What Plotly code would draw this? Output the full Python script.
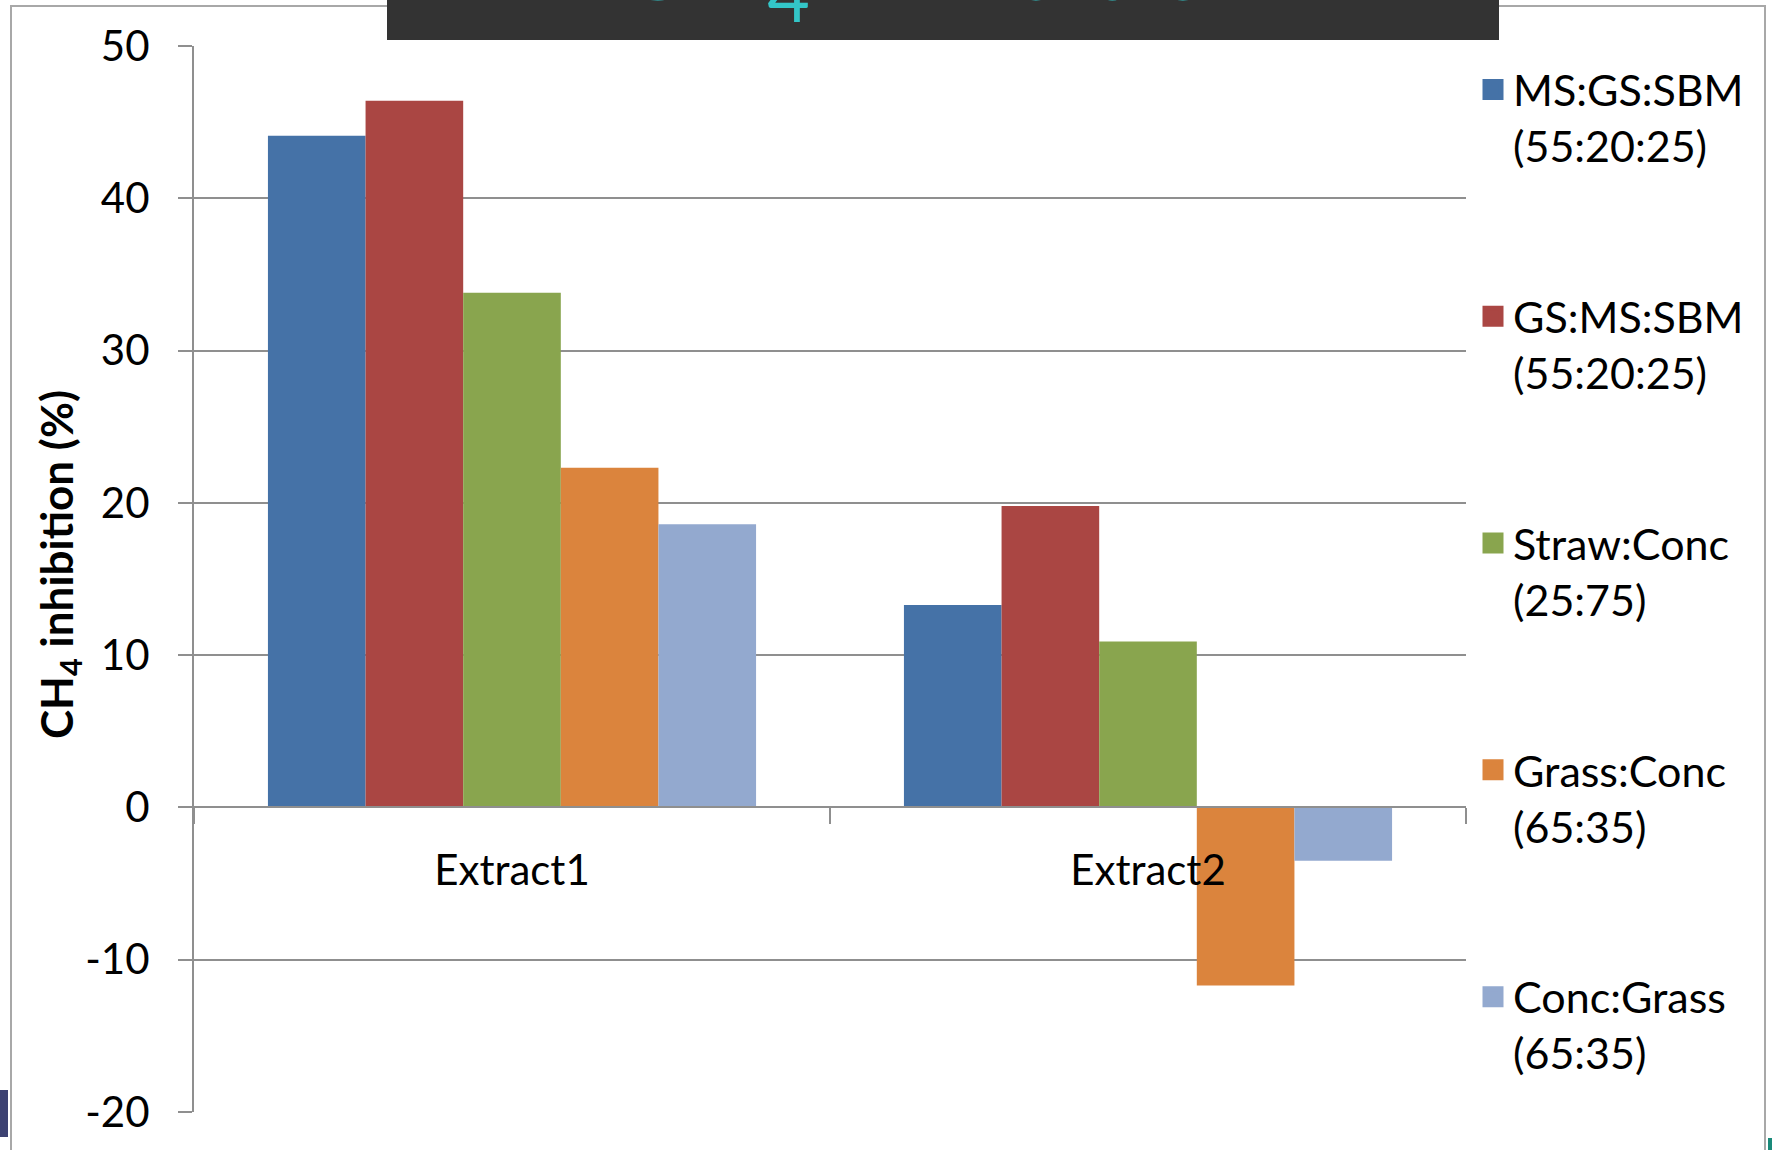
import plotly.graph_objects as go

# ---------------- data ----------------
categories = ["Extract1", "Extract2"]
series_names = [
    "MS:GS:SBM<br>(55:20:25)",
    "GS:MS:SBM<br>(55:20:25)",
    "Straw:Conc<br>(25:75)",
    "Grass:Conc<br>(65:35)",
    "Conc:Grass<br>(65:35)",
]
ms_gs_sbm = [44.1, 13.3]
gs_ms_sbm = [46.4, 19.8]
straw_conc = [33.8, 10.9]
grass_conc = [22.3, -11.7]
conc_grass = [18.6, -3.5]
series_values = [ms_gs_sbm, gs_ms_sbm, straw_conc, grass_conc, conc_grass]
colors = ["#4572A7", "#AA4643", "#89A54E", "#DB843D", "#93A9CF"]
y_ticks = [-20, -10, 0, 10, 20, 30, 40, 50]
y_tick_text = [str(v) for v in y_ticks]
y_min, y_max = -20, 50
y_title = "<b>CH<sub>4</sub> inhibition (%)</b>"
chart_title = "CH<sub>4</sub> inhibition"

# ---------------- layout constants ----------------
W, H = 1772, 1150
ML, MR, MT, MB = 194, 306, 46, 38
PW, PH = W - ML - MR, H - MT - MB
FONT = "Lato"
GRID = "#8f8f8f"


def xp(px):
    return (px - ML) / PW


def yp(py):
    return 1 - (py - MT) / PH


fig = go.Figure()
for name, vals, col in zip(series_names, series_values, colors):
    fig.add_trace(go.Bar(
        x=categories, y=vals, name=name, legendgroup=name, showlegend=False,
        marker=dict(color=col, line=dict(width=0)),
    ))
# legend entries (square swatches)
for name, col in zip(series_names, colors):
    fig.add_trace(go.Scatter(
        x=[None], y=[None], mode="markers", name=name, legendgroup=name,
        marker=dict(symbol="square", size=16, color=col, line=dict(color=col, width=5)),
        hoverinfo="skip",
    ))

shapes = [
    # title banner
    dict(type="rect", xref="paper", yref="paper", x0=xp(387), x1=xp(1499),
         y0=yp(0), y1=yp(40), fillcolor="#333333", line=dict(width=0), layer="above"),
    # slide frame
    dict(type="path", xref="paper", yref="paper",
         path=f"M {xp(11)} {yp(1150)} L {xp(11)} {yp(6)} L {xp(1765)} {yp(6)} L {xp(1765)} {yp(1150)}",
         line=dict(color="#a8a8a8", width=2), layer="below"),
    # slide artefacts
    dict(type="rect", xref="paper", yref="paper", x0=xp(0), x1=xp(8),
         y0=yp(1090), y1=yp(1137), fillcolor="#3D4272", line=dict(width=0)),
    dict(type="rect", xref="paper", yref="paper", x0=xp(1768), x1=xp(1772),
         y0=yp(1138), y1=yp(1150), fillcolor="#1A8A7A", line=dict(width=0)),
]

annotations = [
    dict(text=chart_title, xref="paper", yref="paper",
         x=xp(944), y=yp(40), xanchor="center", yanchor="bottom", showarrow=False,
         font=dict(family=FONT, size=105, color="#33C6C8")),
    dict(text=y_title, xref="paper", yref="paper", textangle=-90,
         x=xp(59), y=yp(565), xanchor="center", yanchor="middle", showarrow=False,
         font=dict(family=FONT, size=44, color="black")),
]

fig.update_layout(
    width=W, height=H,
    margin=dict(l=ML, r=MR, t=MT, b=MB, autoexpand=False),
    paper_bgcolor="white", plot_bgcolor="white",
    barmode="group", bargap=0.2325, bargroupgap=0,
    font=dict(family=FONT, size=42, color="black"),
    showlegend=True,
    legend=dict(
        x=xp(1473), y=yp(55), xanchor="left", yanchor="top",
        font=dict(family=FONT, size=43, color="black"),
        valign="top", tracegroupgap=112, itemwidth=30, itemsizing="trace",
        bgcolor="rgba(0,0,0,0)",
    ),
    xaxis=dict(
        type="category", range=[-0.5, 1.5],
        anchor="free", position=(0 - y_min) / (y_max - y_min),
        showline=True, linecolor=GRID, linewidth=2,
        ticks="outside", tickson="boundaries", ticklen=16, tickwidth=2, tickcolor=GRID,
        showgrid=False, zeroline=False,
        tickfont=dict(family=FONT, size=42, color="black"),
        ticklabelstandoff=26,
    ),
    yaxis=dict(
        range=[y_min, y_max], tickvals=y_ticks, ticktext=y_tick_text,
        showgrid=True, gridcolor=GRID, gridwidth=2,
        showline=True, linecolor=GRID, linewidth=2,
        ticks="outside", ticklen=14, tickwidth=2, tickcolor=GRID,
        zeroline=False,
        tickfont=dict(family=FONT, size=42, color="black"),
        ticklabelstandoff=20,
    ),
    shapes=shapes,
    annotations=annotations,
)

fig.write_html("out.html")
